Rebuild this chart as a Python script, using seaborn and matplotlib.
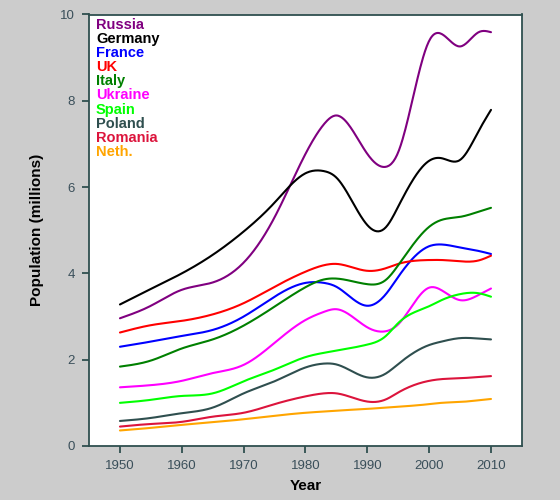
import numpy as np
import pandas as pd
import matplotlib
matplotlib.use("Agg")
import matplotlib.pyplot as plt
import seaborn as sns

years = [1950, 1955, 1960, 1965, 1970, 1975, 1980, 1983, 1985, 1990,
         1993, 1995, 2000, 2002, 2005, 2008, 2010]

russia = [2.96, 3.25, 3.62, 3.79, 4.25, 5.30, 6.77, 7.46, 7.66, 6.77,
          6.47, 6.81, 9.39, 9.55, 9.26, 9.59, 9.59]
germany = [3.28, 3.64, 4.00, 4.43, 4.97, 5.64, 6.32, 6.37, 6.22, 5.12,
           5.07, 5.55, 6.61, 6.67, 6.63, 7.30, 7.79]
france = [2.30, 2.42, 2.55, 2.69, 3.00, 3.46, 3.78, 3.78, 3.69, 3.25,
          3.52, 3.92, 4.63, 4.67, 4.60, 4.52, 4.45]
uk = [2.63, 2.80, 2.90, 3.05, 3.31, 3.69, 4.04, 4.19, 4.22, 4.06,
      4.12, 4.22, 4.31, 4.31, 4.28, 4.30, 4.41]
italy = [1.84, 1.98, 2.26, 2.47, 2.79, 3.23, 3.68, 3.86, 3.88, 3.75,
         3.85, 4.19, 5.08, 5.24, 5.31, 5.43, 5.52]
ukraine = [1.36, 1.41, 1.51, 1.69, 1.88, 2.39, 2.92, 3.11, 3.17, 2.75,
           2.66, 2.82, 3.67, 3.61, 3.38, 3.50, 3.65]
spain = [1.00, 1.07, 1.16, 1.22, 1.50, 1.77, 2.06, 2.16, 2.21, 2.35,
         2.55, 2.85, 3.24, 3.38, 3.52, 3.54, 3.46]
poland = [0.58, 0.65, 0.76, 0.89, 1.22, 1.50, 1.82, 1.91, 1.89, 1.59,
          1.68, 1.90, 2.34, 2.42, 2.50, 2.49, 2.47]
romania = [0.45, 0.51, 0.56, 0.68, 0.77, 0.97, 1.15, 1.22, 1.22, 1.03,
           1.08, 1.24, 1.51, 1.55, 1.57, 1.60, 1.62]
neth = [0.36, 0.42, 0.49, 0.55, 0.62, 0.70, 0.77, 0.80, 0.82, 0.86,
        0.89, 0.91, 0.97, 1.00, 1.02, 1.06, 1.09]

countries = ["Russia", "Germany", "France", "UK", "Italy", "Ukraine",
             "Spain", "Poland", "Romania", "Neth."]
series = [russia, germany, france, uk, italy, ukraine, spain, poland, romania, neth]
colors = ["#800080", "#000000", "#0000FF", "#FF0000", "#008000", "#FF00FF",
          "#00FF00", "#2F4F4F", "#DC143C", "#FFA500"]


# natural cubic spline, only used to draw the lines smooth
def smooth(x, y, num=400):
    x = np.asarray(x, float)
    y = np.asarray(y, float)
    n = len(x)
    h = np.diff(x)
    A = np.zeros((n, n))
    rhs = np.zeros(n)
    A[0, 0] = A[-1, -1] = 1
    for i in range(1, n - 1):
        A[i, i - 1] = h[i - 1]
        A[i, i] = 2 * (h[i - 1] + h[i])
        A[i, i + 1] = h[i]
        rhs[i] = 3 * ((y[i + 1] - y[i]) / h[i] - (y[i] - y[i - 1]) / h[i - 1])
    c = np.linalg.solve(A, rhs)
    b = (y[1:] - y[:-1]) / h - h * (2 * c[:-1] + c[1:]) / 3
    d = (c[1:] - c[:-1]) / (3 * h)
    xs = np.linspace(x[0], x[-1], num)
    idx = np.clip(np.searchsorted(x, xs, side="right") - 1, 0, n - 2)
    dx = xs - x[idx]
    ys = y[idx] + b[idx] * dx + c[idx] * dx ** 2 + d[idx] * dx ** 3
    return xs, ys


rows = []
for name, vals in zip(countries, series):
    xs, ys = smooth(years, vals)
    rows.append(pd.DataFrame({"Year": xs, "Population": ys, "Country": name}))
df = pd.concat(rows, ignore_index=True)

sns.set_style("ticks")
plt.rcParams["font.family"] = ["Liberation Sans", "DejaVu Sans"]

fig = plt.figure(figsize=(5.6, 5.0), dpi=100, facecolor="#CCCCCC")
ax = fig.add_axes([0.159, 0.108, 0.773, 0.863])
ax.set_facecolor("white")

sns.lineplot(data=df, x="Year", y="Population", hue="Country",
             hue_order=countries, palette=dict(zip(countries, colors)),
             linewidth=1.5, legend=False, ax=ax)

ax.set_xlim(1945, 2015)
ax.set_ylim(0, 10)
ax.set_xticks(range(1950, 2011, 10))
ax.set_yticks(range(0, 11, 2))

edge = "#2F4F4F"
for s in ax.spines.values():
    s.set_color(edge)
    s.set_linewidth(1.3)
ax.tick_params(colors=edge, labelcolor="#3A4F5A", length=5, width=1.3,
               labelsize=9.5, pad=5)

ax.set_xlabel("Year", fontsize=11, fontweight="bold", color="black", labelpad=5)
ax.set_ylabel("Population (millions)", fontsize=11, fontweight="bold",
              color="black", labelpad=12)

for i, (name, col) in enumerate(zip(countries, colors)):
    ax.text(0.016, 0.976 - i * 0.0327, name, transform=ax.transAxes,
            color=col, fontsize=10.5, fontweight="bold", va="center", ha="left")

fig.savefig("out.png", dpi=100, facecolor=fig.get_facecolor())
